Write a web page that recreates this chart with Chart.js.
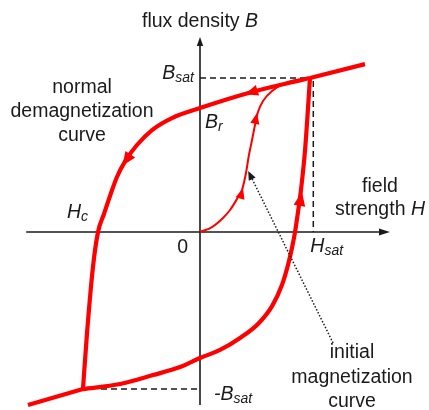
<!DOCTYPE html>
<html>
<head>
<meta charset="utf-8">
<script src="https://cdn.jsdelivr.net/npm/chart.js@4"></script>
<style>
  html, body { margin: 0; padding: 0; background: #fff; }
  canvas { display: block; }
</style>
</head>
<body>
<canvas id="loop" width="429" height="410"></canvas>
<script>
// H in units of Hsat, B in units of Bsat; every branch listed by rising H
const descendH = [-1.064, -1.027, -0.973, -0.927, -0.873, -0.818, -0.755, -0.673, -0.573, -0.436, -0.255, 0, 0.473, 1.0];
const descendB = [-1.02, -0.656, -0.227, 0, 0.117, 0.234, 0.357, 0.468, 0.565, 0.662, 0.740, 0.805, 0.909, 1.0];

const ascendH = [-1.064, -0.727, -0.427, -0.182, 0, 0.182, 0.364, 0.527, 0.655, 0.745, 0.8, 0.836, 0.864, 0.891, 0.918, 0.955, 1.0];
const ascendB = [-1.02, -0.987, -0.929, -0.877, -0.818, -0.766, -0.688, -0.597, -0.481, -0.344, -0.214, -0.104, 0, 0.13, 0.273, 0.532, 1.0];

const initialH = [0, 0.109, 0.209, 0.273, 0.336, 0.382, 0.418, 0.445, 0.473, 0.5, 0.527, 0.573, 0.655, 0.8, 1.0];
const initialB = [0, 0.032, 0.091, 0.143, 0.214, 0.273, 0.383, 0.5, 0.597, 0.695, 0.779, 0.851, 0.916, 0.974, 1.0];

// straight saturation runs beyond the loop tips
const satTopH = [1.0, 1.5];
const satTopB = [1.0, 1.09];
const satBottomH = [-1.564, -1.064];
const satBottomB = [-1.123, -1.02];

// reference levels
const hSat = 1.03;
const bSat = 1.0;
const bSatNeg = -1.02;
const hCoercive = -0.927;

// direction arrows on the curves: tip and a point behind it
const arrowTipH = [0.41, -0.705, 0.927, 0.391, 0.518];
const arrowTipB = [0.895, 0.43, 0.26, 0.286, 0.773];
const arrowBackH = [0.52, -0.61, 0.9, 0.355, 0.491];
const arrowBackB = [0.92, 0.53, 0.156, 0.195, 0.675];
const arrowSize = [13, 14, 14, 11, 11];

const axisH = [-1.58, 1.727];
const axisB = [-1.123, 1.266];

const RED = '#ff0000';
const INK = '#1a1a1a';
const FONT = '"Liberation Sans", Arial, sans-serif';

function toPoints(hs, bs) {
    return hs.map((h, i) => ({ x: h, y: bs[i] }));
}

function head(ctx, x, y, ang, len, half) {
    const bx = x - len * Math.cos(ang), by = y - len * Math.sin(ang);
    ctx.beginPath();
    ctx.moveTo(x, y);
    ctx.lineTo(bx + half * Math.sin(ang), by - half * Math.cos(ang));
    ctx.lineTo(bx - half * Math.sin(ang), by + half * Math.cos(ang));
    ctx.closePath();
    ctx.fill();
}

function seg(ctx, x1, y1, x2, y2) {
    ctx.beginPath();
    ctx.moveTo(x1, y1);
    ctx.lineTo(x2, y2);
    ctx.stroke();
}

// parts: [text, font, baseline shift]
function label(ctx, parts, x, y, align) {
    let w = 0;
    parts.forEach(p => { ctx.font = p[1]; w += ctx.measureText(p[0]).width; });
    let cx = align === 'center' ? x - w / 2 : align === 'right' ? x - w : x;
    ctx.textAlign = 'left';
    ctx.textBaseline = 'alphabetic';
    parts.forEach(p => {
        ctx.font = p[1];
        ctx.fillText(p[0], cx, y + (p[2] || 0));
        cx += ctx.measureText(p[0]).width;
    });
}

const norm = '19.5px ' + FONT;
const ital = 'italic 19.5px ' + FONT;
const sub = 'italic 14px ' + FONT;

const diagram = {
    id: 'diagram',
    beforeDatasetsDraw(chart) {
        const { ctx, scales: { x, y } } = chart;
        const px = h => x.getPixelForValue(h), py = b => y.getPixelForValue(b);
        ctx.save();
        ctx.strokeStyle = INK;
        ctx.fillStyle = INK;
        ctx.lineWidth = 1.6;
        // axes with arrowheads
        seg(ctx, px(axisH[0]), py(0), px(axisH[1]) - 6, py(0));
        head(ctx, px(axisH[1]), py(0), 0, 11, 3.5);
        seg(ctx, px(0), py(axisB[0]), px(0), py(axisB[1]) + 6);
        head(ctx, px(0), py(axisB[1]), -Math.PI / 2, 9, 3.2);
        // saturation guides
        ctx.setLineDash([6, 4]);
        ctx.lineWidth = 1.5;
        seg(ctx, px(0), py(bSat), px(1.0), py(bSat));
        seg(ctx, px(hSat), py(bSat) + 3, px(hSat), py(0));
        seg(ctx, px(-0.9), py(bSatNeg), px(0), py(bSatNeg));
        ctx.restore();
    },
    afterDatasetsDraw(chart) {
        const { ctx, scales: { x, y } } = chart;
        const px = h => x.getPixelForValue(h), py = b => y.getPixelForValue(b);
        ctx.save();
        ctx.fillStyle = RED;
        arrowTipH.forEach((h, i) => {
            const tx = px(h), ty = py(arrowTipB[i]);
            const ang = Math.atan2(ty - py(arrowBackB[i]), tx - px(arrowBackH[i]));
            head(ctx, tx, ty, ang, arrowSize[i], arrowSize[i] * 0.42);
        });

        // pointer to the initial magnetization curve
        ctx.strokeStyle = INK;
        ctx.fillStyle = INK;
        ctx.lineWidth = 1.5;
        ctx.setLineDash([1.5, 1.8]);
        const sx = px(1.21), sy = py(-0.721), ex = px(0.47), ey = py(0.35);
        seg(ctx, sx, sy, ex, ey);
        ctx.setLineDash([]);
        head(ctx, px(0.47) - 3.5, py(0.35) - 7, Math.atan2(ey - sy, ex - sx), 9, 3.8);

        // text
        ctx.fillStyle = INK;
        label(ctx, [['flux density ', norm], ['B', ital]], px(0), 27, 'center');
        label(ctx, [['B', ital], ['sat', sub, 3]], px(0) - 6, py(bSat) + 1, 'right');
        label(ctx, [['B', ital], ['r', sub, 3]], px(0) + 5, 128, 'left');
        label(ctx, [['H', ital], ['c', sub, 3]], px(hCoercive) - 10, 218, 'right');
        label(ctx, [['0', norm]], px(0) - 12, 253, 'right');
        label(ctx, [['H', ital], ['sat', sub, 3]], px(hSat) - 3, 252, 'left');
        label(ctx, [['-B', ital], ['sat', sub, 3]], px(0) + 14, py(bSatNeg) + 11, 'left');
        label(ctx, [['field', norm]], 380, 192, 'center');
        label(ctx, [['strength ', norm], ['H', ital]], 380, 215, 'center');
        ['normal', 'demagnetization', 'curve'].forEach((t, i) => label(ctx, [[t, norm]], 82, 93 + i * 24, 'center'));
        ['initial', 'magnetization', 'curve'].forEach((t, i) => label(ctx, [[t, norm]], 352, 358 + i * 24.5, 'center'));
        ctx.restore();
    }
};

const thick = { borderColor: RED, borderWidth: 4.2, showLine: true, pointRadius: 0, cubicInterpolationMode: 'monotone', fill: false };

new Chart(document.getElementById('loop').getContext('2d'), {
    type: 'scatter',
    data: {
        datasets: [
            { label: 'demagnetization', data: toPoints(descendH, descendB), ...thick },
            { label: 'remagnetization', data: toPoints(ascendH, ascendB), ...thick },
            { label: 'saturation +', data: toPoints(satTopH, satTopB), ...thick, cubicInterpolationMode: 'default', tension: 0 },
            { label: 'saturation -', data: toPoints(satBottomH, satBottomB), ...thick, cubicInterpolationMode: 'default', tension: 0 },
            { label: 'initial', data: toPoints(initialH, initialB), ...thick, borderWidth: 2 }
        ]
    },
    options: {
        responsive: false,
        animation: false,
        devicePixelRatio: 1,
        layout: { padding: { left: 24, right: 36.5, top: 31.8, bottom: 0.9 } },
        plugins: { legend: { display: false }, tooltip: { enabled: false } },
        scales: {
            x: { type: 'linear', min: -1.6, max: 1.75, display: false },
            y: { type: 'linear', min: -1.15, max: 1.3, display: false }
        }
    },
    plugins: [diagram]
});
</script>
</body>
</html>
